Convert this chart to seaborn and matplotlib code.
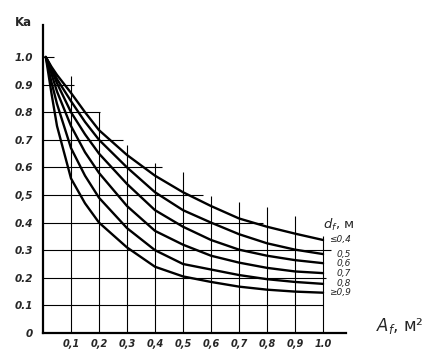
import matplotlib
matplotlib.use("Agg")
import matplotlib.pyplot as plt
import seaborn as sns
import pandas as pd

# ---- data ----
area = [0.01, 0.03, 0.05, 0.1, 0.15, 0.2, 0.3, 0.4, 0.5, 0.6, 0.7, 0.8, 0.9, 1.0]
k_d04 = [1.0, 0.965, 0.935, 0.87, 0.80, 0.735, 0.645, 0.57, 0.51, 0.46, 0.415, 0.385, 0.36, 0.337]
k_d05 = [1.0, 0.96, 0.92, 0.84, 0.765, 0.70, 0.60, 0.51, 0.445, 0.40, 0.358, 0.325, 0.302, 0.286]
k_d06 = [1.0, 0.955, 0.905, 0.80, 0.72, 0.65, 0.54, 0.445, 0.385, 0.337, 0.302, 0.28, 0.264, 0.253]
k_d07 = [1.0, 0.94, 0.875, 0.75, 0.655, 0.58, 0.46, 0.37, 0.32, 0.28, 0.255, 0.236, 0.223, 0.217]
k_d08 = [1.0, 0.91, 0.83, 0.67, 0.57, 0.49, 0.38, 0.30, 0.25, 0.23, 0.21, 0.195, 0.185, 0.178]
k_d09 = [1.0, 0.87, 0.75, 0.56, 0.47, 0.40, 0.31, 0.24, 0.205, 0.185, 0.168, 0.157, 0.15, 0.146]
series_labels = ["≤0,4", "0,5", "0,6", "0,7", "0,8", "≥0,9"]

x_ticks = [0.1, 0.2, 0.3, 0.4, 0.5, 0.6, 0.7, 0.8, 0.9, 1.0]
x_tick_labels = ["0,1", "0,2", "0,3", "0,4", "0,5", "0,6", "0,7", "0,8", "0,9", "1.0"]
y_ticks = [0, 0.1, 0.2, 0.3, 0.4, 0.5, 0.6, 0.7, 0.8, 0.9, 1.0]
y_tick_labels = ["0", "0.1", "0.2", "0.3", "0.4", "0,5", "0.6", "0.7", "0.8", "0.9", "1.0"]

# staircase grid extents
vgrid_x = [0.1, 0.2, 0.3, 0.4, 0.5, 0.6, 0.7, 0.8, 0.9, 1.0]
vgrid_top = [0.93, 0.80, 0.68, 0.615, 0.585, 0.495, 0.475, 0.455, 0.425, 0.35]
hgrid_y = [0.1, 0.2, 0.3, 0.4, 0.5, 0.6, 0.7, 0.8, 0.9, 1.0]
hgrid_end = [1.0, 1.01, 1.03, 0.785, 0.57, 0.425, 0.285, 0.205, 0.11, 0.04]

all_k = [k_d04, k_d05, k_d06, k_d07, k_d08, k_d09]
rows = []
for lab, ks in zip(series_labels, all_k):
    for a, k in zip(area, ks):
        rows.append({"A": a, "K": k, "d": lab})
df = pd.DataFrame(rows)

sns.set_theme(style="white")
plt.rcParams["font.family"] = ["DejaVu Sans"]

W, H = 423, 355
fig = plt.figure(figsize=(W / 100, H / 100), dpi=100)
ax = fig.add_axes([43 / W, (H - 333) / H, 303 / W, 308 / H])

ax.vlines(vgrid_x, 0, vgrid_top, color="black", lw=0.8)
ax.hlines(hgrid_y, 0, hgrid_end, color="black", lw=0.8)

sns.lineplot(data=df, x="A", y="K", units="d", estimator=None, color="black",
             lw=1.7, legend=False, ax=ax, sort=False)

ax.set_xlim(0, 1.082)
ax.set_ylim(0, 1.116)
for s in ["top", "right"]:
    ax.spines[s].set_visible(False)
for s in ["left", "bottom"]:
    ax.spines[s].set_color("black")
    ax.spines[s].set_linewidth(1.6)

ax.set_xticks(x_ticks)
ax.set_xticklabels(x_tick_labels, fontsize=7, fontstyle="italic", fontweight="bold")
ax.set_yticks(y_ticks)
ax.set_yticklabels(y_tick_labels, fontsize=7.5, fontstyle="italic", fontweight="bold")
ax.tick_params(axis="x", length=0, pad=4)
ax.tick_params(axis="y", length=0, pad=7)
ax.set_xlabel("")
ax.set_ylabel("")

# curve labels at their right ends
for lab, ks in zip(series_labels, all_k):
    ax.text(1.1, ks[-1], lab, ha="right", va="center", fontsize=6.5,
            fontstyle="italic", clip_on=False)

ax.text(1.0, 0.392, "$d_f$, м", ha="left", va="center", fontsize=9.5, clip_on=False)
ax.text(1.19, 0.025, "$A_f$, м²", ha="left", va="center", fontsize=12, clip_on=False)
fig.text(23 / W, 1 - 22 / H, "Ka", ha="center", va="center", fontsize=8.5, fontweight="bold")

fig.savefig("out.png", dpi=100)
